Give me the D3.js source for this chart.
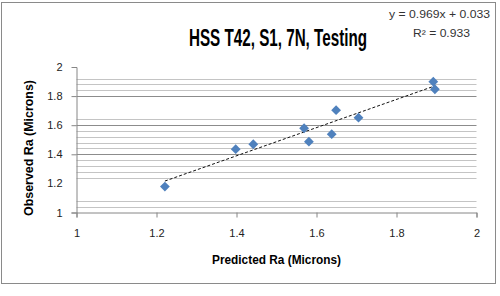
<!DOCTYPE html>
<html>
<head>
<meta charset="utf-8">
<script src="https://cdn.jsdelivr.net/npm/d3@7"></script>
<style>
  html, body { margin: 0; padding: 0; background: #fff; }
  svg { display: block; }
</style>
</head>
<body>
<svg id="chart" width="500" height="296"></svg>
<script>
// ---- data ----
const predicted = [1.221, 1.398, 1.442, 1.569, 1.581, 1.638, 1.649, 1.705, 1.892, 1.896];
const observed  = [1.178, 1.435, 1.469, 1.579, 1.487, 1.538, 1.703, 1.652, 1.899, 1.847];
const slope = 0.969;
const intercept = 0.033;
const equationLabel = "y = 0.969x + 0.033";
const r2Label = "R² = 0.933";
const titleText = "HSS T42, S1, 7N, Testing";
const xTitle = "Predicted Ra (Microns)";
const yTitle = "Observed Ra (Microns)";
const xTicks = [1, 1.2, 1.4, 1.6, 1.8, 2];
const yTicks = [1, 1.2, 1.4, 1.6, 1.8, 2];
const yMajorGrid = [1.4, 1.6, 1.8];
const yMinorGrid = [1.04, 1.08, 1.24, 1.28, 1.32, 1.36, 1.44, 1.48, 1.52, 1.56, 1.64, 1.84, 1.88, 1.92];
const yTickMarks = [1, 1.4, 1.6, 1.8];

(function () {
// ---- layout ----
const svg = d3.select("#chart");
const pLeft = 76.5, pRight = 476.5, pTop = 67, pBottom = 212.5;
const x = d3.scaleLinear().domain([1, 2]).range([pLeft, pRight]);
const y = d3.scaleLinear().domain([1, 2]).range([pBottom, pTop]);
const font = "'Liberation Sans', Arial, sans-serif";
const narrow = "'Liberation Sans Narrow', 'Liberation Sans', Arial, sans-serif";

// chart border
svg.append("rect")
  .attr("x", 1.5).attr("y", 2.5).attr("width", 494).attr("height", 281)
  .attr("fill", "#fff").attr("stroke", "#8a8a8a").attr("stroke-width", 1);

// minor gridlines
svg.append("g").selectAll("line").data(yMinorGrid).join("line")
  .attr("x1", pLeft).attr("x2", pRight)
  .attr("y1", d => Math.round(y(d)) + 0.5).attr("y2", d => Math.round(y(d)) + 0.5)
  .attr("stroke", "#c4c4c4").attr("stroke-width", 1);

// major gridlines
svg.append("g").selectAll("line").data(yMajorGrid).join("line")
  .attr("x1", pLeft).attr("x2", pRight)
  .attr("y1", d => Math.round(y(d)) + 0.5).attr("y2", d => Math.round(y(d)) + 0.5)
  .attr("stroke", "#8c8c8c").attr("stroke-width", 1);

// x axis
const xAxis = svg.append("g")
  .attr("transform", `translate(0,${pBottom})`)
  .call(d3.axisBottom(x).tickValues(xTicks).tickSize(5).tickPadding(12)
    .tickFormat(d3.format("~g")));
xAxis.select(".domain").attr("stroke", "#868686");
xAxis.selectAll(".tick line").attr("stroke", "#868686");
xAxis.selectAll(".tick text").attr("font-family", font).attr("font-size", 11).attr("fill", "#222");

// y axis
const yAxis = svg.append("g")
  .attr("transform", `translate(${pLeft},0)`)
  .call(d3.axisLeft(y).tickValues(yTicks).tickSize(5).tickPadding(9)
    .tickFormat(d3.format("~g")));
yAxis.select(".domain").attr("stroke", "#868686");
yAxis.selectAll(".tick line")
  .attr("stroke", "#868686")
  .attr("visibility", d => yTickMarks.includes(d) ? "visible" : "hidden");
yAxis.selectAll(".tick text").attr("font-family", font).attr("font-size", 11).attr("fill", "#222");

// trendline
const xMin = d3.min(predicted), xMax = d3.max(predicted);
svg.append("line")
  .attr("x1", x(xMin)).attr("y1", y(slope * xMin + intercept))
  .attr("x2", x(xMax)).attr("y2", y(slope * xMax + intercept))
  .attr("stroke", "#111").attr("stroke-width", 1).attr("stroke-dasharray", "3,2");

// points (diamonds)
const diamond = d3.symbol().type(d3.symbolSquare).size(48)();
svg.append("g").selectAll("path").data(predicted.map((p, i) => [p, observed[i]])).join("path")
  .attr("d", diamond)
  .attr("transform", d => `translate(${x(d[0])},${y(d[1])}) rotate(45)`)
  .attr("fill", "#4F81BD");

// title
svg.append("text")
  .attr("x", 278).attr("y", 46).attr("text-anchor", "middle")
  .attr("font-family", narrow).attr("font-weight", "bold").attr("font-size", 23)
  .attr("textLength", 178).attr("lengthAdjust", "spacingAndGlyphs")
  .attr("fill", "#000").text(titleText);

// equation
svg.append("text")
  .attr("x", 439.5).attr("y", 18).attr("text-anchor", "middle")
  .attr("font-family", font).attr("font-size", 10)
  .attr("textLength", 101).attr("lengthAdjust", "spacingAndGlyphs")
  .attr("fill", "#333").text(equationLabel);
svg.append("text")
  .attr("x", 441.5).attr("y", 37).attr("text-anchor", "middle")
  .attr("font-family", font).attr("font-size", 10)
  .attr("textLength", 57).attr("lengthAdjust", "spacingAndGlyphs")
  .attr("fill", "#333").text(r2Label);

// axis titles
svg.append("text")
  .attr("x", 276.5).attr("y", 264).attr("text-anchor", "middle")
  .attr("font-family", narrow).attr("font-weight", "bold").attr("font-size", 13)
  .attr("textLength", 129).attr("lengthAdjust", "spacingAndGlyphs")
  .attr("fill", "#000").text(xTitle);
svg.append("text")
  .attr("transform", "translate(33,148) rotate(-90)").attr("text-anchor", "middle")
  .attr("font-family", narrow).attr("font-weight", "bold").attr("font-size", 13)
  .attr("textLength", 136).attr("lengthAdjust", "spacingAndGlyphs")
  .attr("fill", "#000").text(yTitle);
})();
</script>
</body>
</html>
